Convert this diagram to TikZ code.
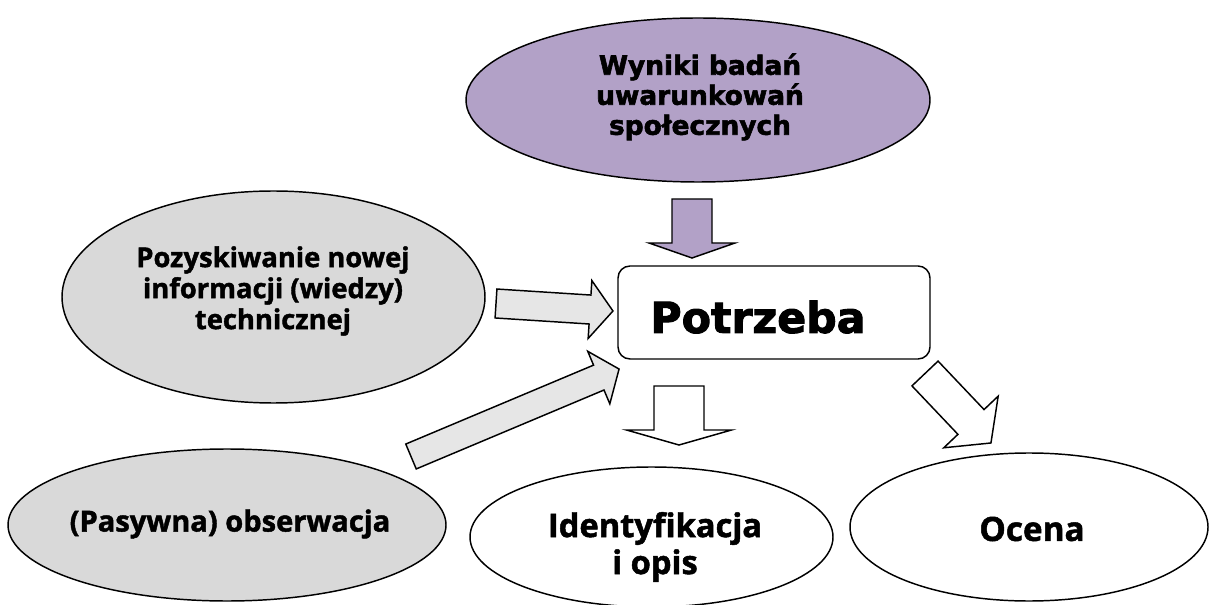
\documentclass[tikz,border=0pt]{standalone}
\usepackage{fontspec}
\setmainfont{Open Sans}
\newfontfamily\humfont[BoldFeatures={FakeBold=1.5}]{Open Sans}
\newfontfamily\heavyfont[BoldFeatures={FakeBold=2.2}]{DejaVu Sans}
\usetikzlibrary{shapes.geometric}
\definecolor{purplefill}{HTML}{B2A1C7}
\definecolor{grayfill}{HTML}{D9D9D9}
\definecolor{arrowgray}{HTML}{E6E6E6}
% #1 style, #2 #3 tail centre, #4 rotation, #5 length, #6 shaft half width, #7 head half width, #8 head length
\newcommand{\blockarrow}[8]{\draw[#1,shift={(#2,#3)},rotate=#4] (0,-#6) -- ({#5-#8},-#6) -- ({#5-#8},-#7) -- (#5,0) -- ({#5-#8},#7) -- ({#5-#8},#6) -- (0,#6) -- cycle;}
\begin{document}
\begin{tikzpicture}[x=0.75pt,y=-0.75pt,
  ell/.style={draw=black,line width=1.1pt,ellipse,inner sep=0pt},
  lbl/.style={align=center,inner sep=0pt},
  barrow/.style={draw=black,line width=1.1pt,line join=miter}]
\useasboundingbox (0,0) rectangle (1209,605);
% ellipses
\node[ell,fill=purplefill,minimum width=464*0.75pt,minimum height=164*0.75pt] (wyniki) at (698,100) {};
\node[ell,fill=grayfill,minimum width=423*0.75pt,minimum height=212*0.75pt] (pozysk) at (273.5,297) {};
\node[ell,fill=grayfill,minimum width=438*0.75pt,minimum height=152*0.75pt] (pasyw) at (227,525) {};
\node[ell,fill=white,minimum width=363*0.75pt,minimum height=140*0.75pt] (ident) at (651.5,537) {};
\node[ell,fill=white,minimum width=358*0.75pt,minimum height=148*0.75pt] (ocena) at (1029,527) {};
% box
\node[draw=black,line width=1.1pt,rounded corners=9pt,fill=white,minimum width=312*0.75pt,minimum height=93*0.75pt,inner sep=0pt] (potrz) at (774,312.5) {};
% texts
\node[lbl,font=\heavyfont\bfseries\fontsize{19.8}{22.5}\selectfont] (wynikit) at (700,97) {Wyniki badań\\uwarunkowań\\społecznych};
\node[lbl,font=\heavyfont\bfseries\fontsize{32}{36}\selectfont] (potrzt) at (758,317) {Potrzeba};
\node[lbl,font=\humfont\bfseries\fontsize{20.5}{23.25}\selectfont] (pozyskt) at (273,291) {Pozyskiwanie nowej\\informacji (wiedzy)\\technicznej};
\node[lbl,font=\humfont\bfseries\fontsize{21.8}{25}\selectfont] (pasywt) at (230,524) {(Pasywna) obserwacja};
\node[lbl,font=\humfont\bfseries\fontsize{24.5}{27.75}\selectfont] (identt) at (655,547) {Identyfikacja\\i opis};
\node[lbl,font=\humfont\bfseries\fontsize{25}{28}\selectfont] (ocenat) at (1032,529) {Ocena};
% block arrows
\blockarrow{barrow,fill=purplefill}{692}{199}{-90}{59}{20}{43}{15}
\blockarrow{barrow,fill=arrowgray}{496}{303.5}{-3.67}{117.2}{14.5}{29}{23}
\blockarrow{barrow,fill=arrowgray}{411}{456.5}{22.8}{225.7}{13.5}{28.5}{22}
\blockarrow{barrow,fill=white}{679}{386}{-90}{59}{25}{52.5}{15}
\blockarrow{barrow,fill=white}{925}{373.5}{-46.5}{95.8}{18}{37.5}{29}
\end{tikzpicture}
\end{document}
